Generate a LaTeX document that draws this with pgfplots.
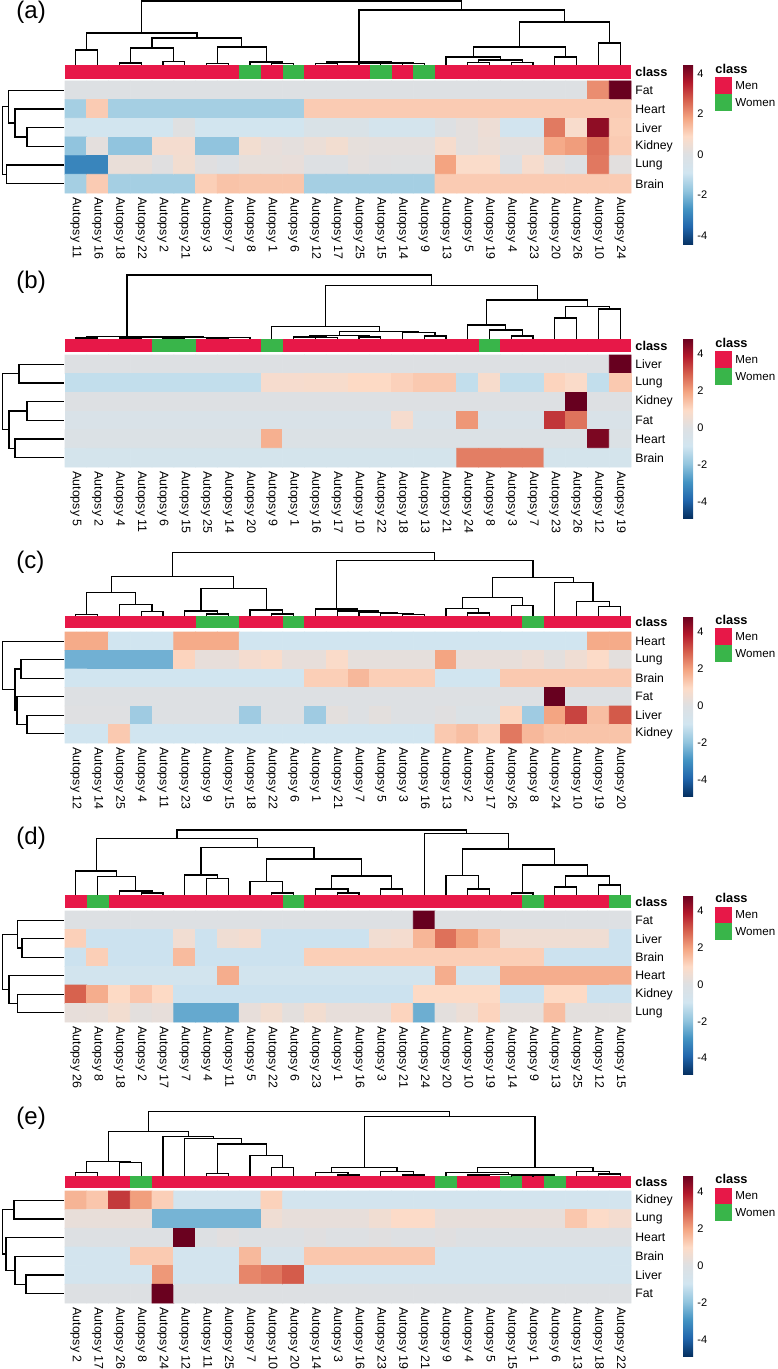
\documentclass[border=0pt]{standalone}
\usepackage{pgfplots}
\pgfplotsset{compat=1.18}
\usepackage{fontspec}
\setmainfont{Liberation Sans}

\definecolor{menred}{RGB}{231,24,72}
\definecolor{womengreen}{RGB}{57,181,74}
\pgfplotsset{colormap={rdbu}{rgb255=(5,48,97) rgb255=(33,102,172) rgb255=(67,147,195) rgb255=(146,197,222) rgb255=(209,229,240) rgb255=(221,224,227) rgb255=(253,219,199) rgb255=(244,165,130) rgb255=(214,96,77) rgb255=(178,24,43) rgb255=(103,0,31)}}

% one panel = one hidden axis over the whole page; x = column index, y = pixel row (downwards)
\pgfplotsset{
  panel/.style n args={3}{%
    at={(32.5pt,0pt)}, anchor=north west,
    x=10.885pt, y=0.5pt, y dir=reverse,
    xmin=-0.5, xmax=25.5, ymin=0, ymax=1369,
    hide axis, clip=false,
    colormap name=rdbu,
    point meta min=-#1, point meta max=#1,
    colorbar,
    colorbar style={
      at={(parent axis.north west)}, anchor=north west,
      xshift=300.5pt, yshift=#2,
      width=5pt, height=#3,
      ytick={-4,-2,0,2,4}, yticklabels={-4,-2,0,2,4},
      yticklabel style={font=\fontsize{5.5}{6}\selectfont, inner sep=1pt, xshift=1pt},
      major tick length=0pt, axis line style={draw=none},
    },
  },
  dend/.style={black, line width=0.6pt, unbounded coords=jump},
}
\tikzset{
  collab/.style={rotate=-90, anchor=west, inner sep=0pt, font=\fontsize{6.2}{7}\selectfont},
  rowlab/.style={anchor=west, inner sep=0pt, xshift=2pt, font=\fontsize{6.1}{7}\selectfont},
  legtxt/.style={anchor=west, inner sep=0pt, font=\fontsize{5.8}{6}\selectfont},
  legtitle/.style={anchor=west, inner sep=0pt, font=\fontsize{6.4}{7}\selectfont\bfseries},
  plabel/.style={anchor=west, inner sep=0pt, font=\fontsize{12}{13}\selectfont},
}
\newcommand\collabels[2]{%
  \foreach \n [count=\i from 0] in {#2} {%
    \edef\tmp{\noexpand\node[collab] at (axis cs:\i,#1) {Autopsy \n};}\tmp}}
\newcommand\rowlabels[3]{%
  \foreach \n [count=\i from 0] in {#3} {%
    \pgfmathsetmacro\yy{#1+#2*(\i+0.5)}%
    \edef\tmp{\noexpand\node[rowlab] at (axis cs:25.5,\yy) {\n};}\tmp}}
\newcommand\classlegend[1]{%
  \pgfmathsetmacro\ya{#1+8.3}\pgfmathsetmacro\yb{#1+25}\pgfmathsetmacro\yc{#1+41.7}%
  \pgfmathsetmacro\ym{#1+16.7}\pgfmathsetmacro\yw{#1+33.4}%
  \node[legtitle] at (axis cs:29.36,#1) {class};
  \fill[menred] (axis cs:29.36,\ya) rectangle (axis cs:30.14,\yb);
  \fill[womengreen] (axis cs:29.36,\yb) rectangle (axis cs:30.14,\yc);
  \node[legtxt] at (axis cs:30.28,\ym) {Men};
  \node[legtxt] at (axis cs:30.28,\yw) {Women};}

\begin{document}
\begin{tikzpicture}

% ---------------- (a) ----------------
\begin{axis}[panel={4.47}{-32pt}{90.5pt}]
\addplot[matrix plot*, mesh/cols=26, point meta=explicit]
  table[row sep=\\, x expr={mod(\coordindex,26)}, y expr={81+18.667*(floor(\coordindex/26)+0.5)}, meta=v] {
v\\
0\\ 0\\ 0\\ 0\\ 0\\ 0\\ 0\\ 0\\ 0\\ 0\\ 0\\ 0\\ 0\\ 0\\ 0\\ 0\\ 0\\ 0\\ 0\\ 0\\ 0\\ 0\\ 0\\ 0\\ 2.1\\ 4.45\\
-1.52\\ 1.16\\ -1.52\\ -1.52\\ -1.52\\ -1.52\\ -1.52\\ -1.52\\ -1.52\\ -1.52\\ -1.52\\ 1.16\\ 1.16\\ 1.16\\ 1.16\\ 1.16\\ 1.16\\ 1.16\\ 1.16\\ 1.16\\ 1.16\\ 1.16\\ 1.16\\ 1.16\\ 1.16\\ 1.16\\
-0.85\\ -0.85\\ -0.85\\ -0.85\\ -0.85\\ 0.05\\ -0.85\\ -0.85\\ -0.85\\ -0.85\\ -0.85\\ -0.3\\ -0.3\\ -0.3\\ -0.7\\ -0.7\\ -0.7\\ 0\\ 0.2\\ 0.45\\ -0.8\\ -0.8\\ 2.35\\ 0.75\\ 4.0\\ 1.1\\
-1.8\\ 0.2\\ -1.8\\ -1.8\\ 0.65\\ 0.65\\ -1.8\\ -1.8\\ 0.6\\ 0.3\\ 0.2\\ 0.4\\ 0.6\\ 0.25\\ 0.2\\ 0.2\\ 0.2\\ 0.7\\ 0.2\\ 0.4\\ 0.2\\ 0.2\\ 1.7\\ 1.9\\ 2.45\\ 1.16\\
-2.95\\ -2.95\\ 0.35\\ 0.35\\ 0.1\\ 0.6\\ 0.1\\ -0.05\\ 0.25\\ 0.25\\ 0.3\\ 0\\ 0\\ 0.2\\ 0.1\\ 0.05\\ 0.05\\ 1.8\\ 0.8\\ 0.8\\ 0\\ 0.7\\ 0.2\\ 0\\ 2.37\\ 0.15\\
-1.52\\ 1.16\\ -1.52\\ -1.52\\ -1.52\\ -1.52\\ 1.1\\ 1.3\\ 1.25\\ 1.25\\ 1.25\\ -1.52\\ -1.52\\ -1.52\\ -1.52\\ -1.52\\ -1.52\\ 1.16\\ 1.16\\ 1.16\\ 1.16\\ 1.16\\ 1.16\\ 1.16\\ 1.16\\ 1.16\\
};
\addplot[fill=menred, draw=none] coordinates {(-0.5,65) (25.5,65) (25.5,79) (-0.5,79)};
\addplot[fill=womengreen, draw=none] coordinates {(7.5,65) (8.5,65) (8.5,79) (7.5,79)};
\addplot[fill=womengreen, draw=none] coordinates {(9.5,65) (10.5,65) (10.5,79) (9.5,79)};
\addplot[fill=womengreen, draw=none] coordinates {(13.5,65) (14.5,65) (14.5,79) (13.5,79)};
\addplot[fill=womengreen, draw=none] coordinates {(15.5,65) (16.5,65) (16.5,79) (15.5,79)};
\addplot[dend] coordinates {
(0,65) (0,50) (1,50) (1,65) (0,nan)
(2,65) (2,63) (3,63) (3,65) (0,nan)
(4,65) (4,61.5) (5,61.5) (5,65) (0,nan)
(2.5,63) (2.5,48) (4.5,48) (4.5,61.5) (0,nan)
(6,65) (6,63.5) (7,63.5) (7,65) (0,nan)
(9,65) (9,63.5) (10,63.5) (10,65) (0,nan)
(8,65) (8,62) (9.5,62) (9.5,63.5) (0,nan)
(6.5,63.5) (6.5,47) (8.75,47) (8.75,62) (0,nan)
(3.5,48) (3.5,38) (7.625,38) (7.625,47) (0,nan)
(0.5,50) (0.5,33) (5.5625,33) (5.5625,38) (0,nan)
(11,65) (11,63.5) (12,63.5) (12,65) (0,nan)
(13,65) (13,63.5) (14,63.5) (14,65) (0,nan)
(15,65) (15,63.5) (16,63.5) (16,65) (0,nan)
(13.5,63.5) (13.5,63) (15.5,63) (15.5,63.5) (0,nan)
(11.5,63.5) (11.5,62) (14.5,62) (14.5,63) (0,nan)
(18,65) (18,62.5) (19,62.5) (19,65) (0,nan)
(20,65) (20,62.5) (21,62.5) (21,65) (0,nan)
(18.5,62.5) (18.5,60) (20.5,60) (20.5,62.5) (0,nan)
(17,65) (17,57) (19.5,57) (19.5,60) (0,nan)
(22,65) (22,57) (23,57) (23,65) (0,nan)
(18.25,57) (18.25,47) (22.5,47) (22.5,57) (0,nan)
(24,65) (24,43) (25,43) (25,65) (0,nan)
(20.375,47) (20.375,22) (24.5,22) (24.5,43) (0,nan)
(13,62) (13,10) (22.4375,10) (22.4375,22) (0,nan)
(3.03,33) (3.03,1) (17.72,1) (17.72,10)
};
\addplot[dend] coordinates {
(-0.546,127.67) (-2.245,127.67) (-2.245,146.33) (-0.546,146.33) (0,nan)
(-0.546,109) (-2.797,109) (-2.797,137) (-2.245,137) (0,nan)
(-0.546,90.33) (-3.105,90.33) (-3.105,123) (-2.797,123) (0,nan)
(-0.546,165) (-3.178,165) (-3.178,183.67) (-0.546,183.67) (0,nan)
(-3.105,106.67) (-3.362,106.67) (-3.362,174.33) (-3.178,174.33)
};
\node[plabel] at (axis cs:-2.75,12.5) {(a)};
\node[legtitle, xshift=2pt] at (axis cs:25.5,72) {class};
\rowlabels{81}{18.667}{Fat,Heart,Liver,Kidney,Lung,Brain}
\collabels{197}{11,16,18,22,2,21,3,7,8,1,6,12,17,25,15,14,9,13,5,19,4,23,20,26,10,24}
\classlegend{69}
\end{axis}

% ---------------- (b) ----------------
\begin{axis}[panel={4.87}{-169pt}{90pt}]
\addplot[matrix plot*, mesh/cols=26, point meta=explicit]
  table[row sep=\\, x expr={mod(\coordindex,26)}, y expr={355+18.667*(floor(\coordindex/26)+0.5)}, meta=v] {
v\\
0\\ 0\\ 0\\ 0\\ 0\\ 0\\ 0\\ 0\\ 0\\ 0\\ 0\\ 0\\ 0\\ 0\\ 0\\ 0\\ 0\\ 0\\ 0\\ 0\\ 0\\ 0\\ 0\\ 0\\ 0\\ 4.87\\
-1.2\\ -1.2\\ -1.2\\ -1.2\\ -1.2\\ -1.2\\ -1.2\\ -1.2\\ -1.2\\ 0.75\\ 0.75\\ 0.8\\ 0.8\\ 1.0\\ 1.0\\ 1.15\\ 1.3\\ 1.3\\ -1.2\\ 0.8\\ -1.2\\ -1.2\\ 1.1\\ 0.9\\ -1.2\\ 1.3\\
0\\ 0\\ 0\\ 0\\ 0\\ 0\\ 0\\ 0\\ 0\\ 0\\ 0\\ 0\\ 0\\ 0\\ 0\\ 0\\ 0\\ 0\\ 0\\ 0\\ 0\\ 0\\ 0\\ 4.87\\ 0\\ 0\\
-0.35\\ -0.35\\ -0.35\\ -0.35\\ -0.35\\ -0.35\\ -0.35\\ -0.35\\ -0.35\\ -0.35\\ -0.35\\ -0.35\\ -0.35\\ -0.35\\ -0.35\\ 0.75\\ -0.35\\ -0.35\\ 2.15\\ -0.35\\ -0.35\\ -0.35\\ 3.5\\ 2.65\\ -0.35\\ -0.35\\
-0.15\\ -0.15\\ -0.15\\ -0.15\\ -0.15\\ -0.15\\ -0.15\\ -0.15\\ -0.15\\ 1.75\\ -0.15\\ -0.15\\ -0.15\\ -0.15\\ -0.15\\ -0.15\\ -0.15\\ -0.15\\ -0.15\\ -0.15\\ -0.15\\ -0.15\\ -0.15\\ -0.15\\ 4.6\\ -0.15\\
-0.7\\ -0.7\\ -0.7\\ -0.7\\ -0.7\\ -0.7\\ -0.7\\ -0.7\\ -0.7\\ -0.7\\ -0.7\\ -0.7\\ -0.7\\ -0.7\\ -0.7\\ -0.7\\ -0.7\\ -0.7\\ 2.5\\ 2.5\\ 2.5\\ 2.5\\ -0.7\\ -0.7\\ -0.7\\ -0.7\\
};
\addplot[fill=menred, draw=none] coordinates {(-0.5,339) (25.5,339) (25.5,352) (-0.5,352)};
\addplot[fill=womengreen, draw=none] coordinates {(3.5,339) (5.5,339) (5.5,352) (3.5,352)};
\addplot[fill=womengreen, draw=none] coordinates {(8.5,339) (9.5,339) (9.5,352) (8.5,352)};
\addplot[fill=womengreen, draw=none] coordinates {(18.5,339) (19.5,339) (19.5,352) (18.5,352)};
\addplot[dend] coordinates {
(0,339) (0,338) (1,338) (1,339) (0,nan)
(2,339) (2,338) (3,338) (3,339) (0,nan)
(4,339) (4,338) (5,338) (5,339) (0,nan)
(6,339) (6,338) (7,338) (7,339) (0,nan)
(6.5,338) (6.5,337.5) (8,337.5) (8,339) (0,nan)
(4.5,338) (4.5,337.5) (7.25,337.5) (0,nan)
(2.5,338) (2.5,337) (5.875,337) (5.875,337.5) (0,nan)
(0.5,338) (0.5,336.5) (4.1875,336.5) (4.1875,337) (0,nan)
(11,339) (11,337.5) (12,337.5) (12,339) (0,nan)
(10,339) (10,337) (11.5,337) (11.5,337.5) (0,nan)
(13,339) (13,337) (14,337) (14,339) (0,nan)
(10.75,337) (10.75,335.5) (13.5,335.5) (13.5,337) (0,nan)
(16,339) (16,336) (17,336) (17,339) (0,nan)
(15,339) (15,332.5) (16.5,332.5) (16.5,336) (0,nan)
(12.125,335.5) (12.125,331.5) (15.75,331.5) (15.75,332.5) (0,nan)
(9,339) (9,326.7) (13.9375,326.7) (13.9375,331.5) (0,nan)
(20,339) (20,336) (21,336) (21,339) (0,nan)
(19,339) (19,330) (20.5,330) (20.5,336) (0,nan)
(18,339) (18,325) (19.75,325) (19.75,330) (0,nan)
(22,339) (22,318) (23,318) (23,339) (0,nan)
(24,339) (24,309) (25,309) (25,339) (0,nan)
(22.5,318) (22.5,306.7) (24.5,306.7) (24.5,309) (0,nan)
(18.875,325) (18.875,300) (23.5,300) (23.5,306.7) (0,nan)
(11.469,326.7) (11.469,285.7) (21.1875,285.7) (21.1875,300) (0,nan)
(2.344,336.5) (2.344,275) (16.328,275) (16.328,285.7)
};
\addplot[dend] coordinates {
(-0.546,364.33) (-2.613,364.33) (-2.613,383) (-0.546,383) (0,nan)
(-0.546,401.67) (-2.245,401.67) (-2.245,420.33) (-0.546,420.33) (0,nan)
(-0.546,439) (-2.797,439) (-2.797,457.67) (-0.546,457.67) (0,nan)
(-2.245,411) (-3.072,411) (-3.072,448.33) (-2.797,448.33) (0,nan)
(-2.613,373.67) (-3.371,373.67) (-3.371,429.67) (-3.072,429.67)
};
\node[plabel] at (axis cs:-2.75,282) {(b)};
\node[legtitle, xshift=2pt] at (axis cs:25.5,345.5) {class};
\rowlabels{355}{18.667}{Liver,Lung,Kidney,Fat,Heart,Brain}
\collabels{471}{5,2,4,11,6,15,25,14,20,9,1,16,17,10,22,18,13,21,24,8,3,7,23,26,12,19}
\classlegend{343}
\end{axis}

% ---------------- (c) ----------------
\begin{axis}[panel={4.87}{-308pt}{90pt}]
\addplot[matrix plot*, mesh/cols=26, point meta=explicit]
  table[row sep=\\, x expr={mod(\coordindex,26)}, y expr={632+18.5*(floor(\coordindex/26)+0.5)}, meta=v] {
v\\
1.85\\ 1.85\\ -0.97\\ -0.97\\ -0.97\\ 1.85\\ 1.85\\ 1.85\\ -0.97\\ -0.97\\ -0.97\\ -0.97\\ -0.97\\ -0.97\\ -0.97\\ -0.97\\ -0.97\\ -0.97\\ -0.97\\ -0.97\\ -0.97\\ -0.97\\ -0.97\\ -0.97\\ 1.85\\ 1.85\\
-2.35\\ -2.35\\ -2.35\\ -2.35\\ -2.35\\ 1.1\\ 0.3\\ 0.3\\ 0.7\\ 0.85\\ 0.3\\ 0.3\\ 0.9\\ 0.25\\ 0.25\\ 0.25\\ 0.25\\ 1.95\\ 0.3\\ 0.3\\ 0.3\\ 0.5\\ 0.2\\ 0.55\\ 0.95\\ 0.2\\
-0.97\\ -0.97\\ -0.97\\ -0.97\\ -0.97\\ -0.97\\ -0.97\\ -0.97\\ -0.97\\ -0.97\\ -0.97\\ 1.2\\ 1.2\\ 1.6\\ 1.2\\ 1.2\\ 1.2\\ -0.97\\ -0.97\\ -0.97\\ 1.3\\ 1.3\\ 1.3\\ 1.3\\ 1.3\\ 1.3\\
0\\ 0\\ 0\\ 0\\ 0\\ 0\\ 0\\ 0\\ 0\\ 0\\ 0\\ 0\\ 0\\ 0\\ 0\\ 0\\ 0\\ 0\\ 0\\ 0\\ 0\\ 0\\ 4.87\\ 0\\ 0\\ 0\\
0.05\\ 0.05\\ 0.05\\ -1.75\\ 0\\ 0\\ 0\\ 0\\ -1.75\\ 0\\ 0\\ -1.75\\ 0.2\\ 0\\ 0.2\\ 0\\ 0\\ 0.1\\ -0.15\\ -0.15\\ 1.07\\ -1.75\\ 1.95\\ 3.3\\ 1.5\\ 3.0\\
-0.97\\ -0.97\\ 1.3\\ -0.97\\ -0.97\\ -0.97\\ -0.97\\ -0.97\\ -0.97\\ -0.97\\ -0.97\\ -0.97\\ -0.97\\ -0.97\\ -0.97\\ -0.97\\ -0.97\\ 1.3\\ 1.5\\ 1.15\\ 2.58\\ 1.6\\ 1.4\\ 1.4\\ 1.4\\ 1.4\\
};
\addplot[fill=menred, draw=none] coordinates {(-0.5,616) (25.5,616) (25.5,628) (-0.5,628)};
\addplot[fill=womengreen, draw=none] coordinates {(5.5,616) (7.5,616) (7.5,628) (5.5,628)};
\addplot[fill=womengreen, draw=none] coordinates {(9.5,616) (10.5,616) (10.5,628) (9.5,628)};
\addplot[fill=womengreen, draw=none] coordinates {(20.5,616) (21.5,616) (21.5,628) (20.5,628)};
\addplot[dend] coordinates {
(0,616) (0,614.7) (1,614.7) (1,616) (0,nan)
(3,616) (3,611.7) (4,611.7) (4,616) (0,nan)
(2,616) (2,604.3) (3.5,604.3) (3.5,611.7) (0,nan)
(0.5,614.7) (0.5,592.7) (2.75,592.7) (2.75,604.3) (0,nan)
(6,616) (6,614) (7,614) (7,616) (0,nan)
(5,616) (5,611) (6.5,611) (6.5,614) (0,nan)
(9,616) (9,614) (10,614) (10,616) (0,nan)
(8,616) (8,610) (9.5,610) (9.5,614) (0,nan)
(5.75,611) (5.75,588.3) (8.75,588.3) (8.75,610) (0,nan)
(1.625,592.7) (1.625,576.7) (7.25,576.7) (7.25,588.3) (0,nan)
(15,616) (15,614.5) (16,614.5) (16,616) (0,nan)
(14,616) (14,613.5) (15.5,613.5) (15.5,614.5) (0,nan)
(13,616) (13,612.5) (14.75,612.5) (14.75,613.5) (0,nan)
(12,616) (12,611) (13.875,611) (13.875,612.5) (0,nan)
(11,616) (11,609) (12.9375,609) (12.9375,611) (0,nan)
(18,616) (18,613) (19,613) (19,616) (0,nan)
(17,616) (17,608.3) (18.5,608.3) (18.5,613) (0,nan)
(20,616) (20,605.7) (21,605.7) (21,616) (0,nan)
(17.75,608.3) (17.75,597.3) (20.5,597.3) (20.5,605.7) (0,nan)
(24,616) (24,606.7) (25,606.7) (25,616) (0,nan)
(23,616) (23,601.7) (24.5,601.7) (24.5,606.7) (0,nan)
(22,616) (22,582.3) (23.75,582.3) (23.75,601.7) (0,nan)
(19.125,597.3) (19.125,577.7) (22.875,577.7) (22.875,582.3) (0,nan)
(11.969,609) (11.969,560.7) (21,560.7) (21,577.7) (0,nan)
(4.4375,576.7) (4.4375,552.7) (16.484,552.7) (16.484,560.7)
};
\addplot[dend] coordinates {
(-0.546,659.75) (-2.521,659.75) (-2.521,678.25) (-0.546,678.25) (0,nan)
(-0.546,715.25) (-2.245,715.25) (-2.245,733.75) (-0.546,733.75) (0,nan)
(-0.546,696.75) (-2.705,696.75) (-2.705,724.5) (-2.245,724.5) (0,nan)
(-2.521,669) (-2.797,669) (-2.797,710.625) (-2.705,710.625) (0,nan)
(-0.546,641.25) (-3.371,641.25) (-3.371,689.81) (-2.797,689.81)
};
\node[plabel] at (axis cs:-2.75,562) {(c)};
\node[legtitle, xshift=2pt] at (axis cs:25.5,622) {class};
\rowlabels{632}{18.5}{Heart,Lung,Brain,Fat,Liver,Kidney}
\collabels{747}{12,14,25,4,11,23,9,15,18,22,6,1,21,7,5,3,16,13,2,17,26,8,24,10,19,20}
\classlegend{620}
\end{axis}

% ---------------- (d) ----------------
\begin{axis}[panel={4.87}{-447.5pt}{89.5pt}]
\addplot[matrix plot*, mesh/cols=26, point meta=explicit]
  table[row sep=\\, x expr={mod(\coordindex,26)}, y expr={911+18.5*(floor(\coordindex/26)+0.5)}, meta=v] {
v\\
0\\ 0\\ 0\\ 0\\ 0\\ 0\\ 0\\ 0\\ 0\\ 0\\ 0\\ 0\\ 0\\ 0\\ 0\\ 0\\ 4.87\\ 0\\ 0\\ 0\\ 0\\ 0\\ 0\\ 0\\ 0\\ 0\\
1.17\\ -1.05\\ -1.05\\ -1.05\\ -1.05\\ 0.6\\ -1.05\\ 0.55\\ 0.7\\ -1.05\\ -1.05\\ -1.05\\ -1.05\\ -1.05\\ 0.6\\ 0.7\\ 1.65\\ 2.68\\ 2.0\\ 1.45\\ 0.55\\ 0.55\\ 0.55\\ 0.55\\ 0.55\\ -1.05\\
-1.05\\ 1.2\\ -1.05\\ -1.05\\ -1.05\\ 1.55\\ -1.05\\ -1.05\\ -1.05\\ -1.05\\ -1.05\\ 1.2\\ 1.2\\ 1.2\\ 1.2\\ 1.2\\ 1.2\\ 1.2\\ 1.2\\ 1.2\\ 1.2\\ 1.2\\ -1.05\\ -1.05\\ -1.05\\ -1.05\\
-0.85\\ -0.85\\ -0.85\\ -0.85\\ -0.85\\ -0.85\\ -0.85\\ 1.8\\ -0.85\\ -0.85\\ -0.85\\ -0.85\\ -0.85\\ -0.85\\ -0.85\\ -0.85\\ -0.85\\ 1.8\\ -0.85\\ -0.85\\ 1.8\\ 1.8\\ 1.8\\ 1.8\\ 1.8\\ 1.8\\
2.9\\ 1.8\\ 1.0\\ 1.35\\ 1.0\\ -1.05\\ -1.05\\ -1.05\\ -1.05\\ -1.05\\ -1.05\\ -1.05\\ -1.05\\ -1.05\\ -1.05\\ -1.05\\ 1.0\\ 1.0\\ 1.0\\ 1.0\\ -1.05\\ -1.05\\ 1.0\\ 1.0\\ -1.05\\ -1.05\\
0.3\\ 0.35\\ 0.65\\ 0.2\\ 0.3\\ -2.5\\ -2.5\\ -2.5\\ 0.3\\ 0.65\\ 0.2\\ 0.65\\ 0.3\\ 0.3\\ 0.3\\ 1.1\\ -2.4\\ 0.2\\ 0.45\\ 1.1\\ 0.25\\ 0.25\\ 1.5\\ 0.2\\ 0.2\\ 0.2\\
};
\addplot[fill=menred, draw=none] coordinates {(-0.5,895) (25.5,895) (25.5,908) (-0.5,908)};
\addplot[fill=womengreen, draw=none] coordinates {(0.5,895) (1.5,895) (1.5,908) (0.5,908)};
\addplot[fill=womengreen, draw=none] coordinates {(9.5,895) (10.5,895) (10.5,908) (9.5,908)};
\addplot[fill=womengreen, draw=none] coordinates {(20.5,895) (21.5,895) (21.5,908) (20.5,908)};
\addplot[fill=womengreen, draw=none] coordinates {(24.5,895) (25.5,895) (25.5,908) (24.5,908)};
\addplot[dend] coordinates {
(3,895) (3,893) (4,893) (4,895) (0,nan)
(2,895) (2,891) (3.5,891) (3.5,893) (0,nan)
(1,895) (1,876.7) (2.75,876.7) (2.75,891) (0,nan)
(0,895) (0,871) (1.875,871) (1.875,876.7) (0,nan)
(6,895) (6,878.3) (7,878.3) (7,895) (0,nan)
(5,895) (5,875) (6.5,875) (6.5,878.3) (0,nan)
(9,895) (9,893) (10,893) (10,895) (0,nan)
(8,895) (8,881.7) (9.5,881.7) (9.5,893) (0,nan)
(12,895) (12,893) (13,893) (13,895) (0,nan)
(11,895) (11,889) (12.5,889) (12.5,893) (0,nan)
(14,895) (14,889) (15,889) (15,895) (0,nan)
(11.75,889) (11.75,876) (14.5,876) (14.5,889) (0,nan)
(8.75,881.7) (8.75,859) (13.125,859) (13.125,876) (0,nan)
(5.75,875) (5.75,847.3) (10.9375,847.3) (10.9375,859) (0,nan)
(0.9375,871) (0.9375,838.3) (8.34375,838.3) (8.34375,847.3) (0,nan)
(18,895) (18,889) (19,889) (19,895) (0,nan)
(17,895) (17,875.7) (18.5,875.7) (18.5,889) (0,nan)
(20,895) (20,893) (21,893) (21,895) (0,nan)
(22,895) (22,887) (23,887) (23,895) (0,nan)
(24,895) (24,885) (25,885) (25,895) (0,nan)
(22.5,887) (22.5,876) (24.5,876) (24.5,885) (0,nan)
(20.5,893) (20.5,865) (23.5,865) (23.5,876) (0,nan)
(17.75,875.7) (17.75,849) (22,849) (22,865) (0,nan)
(16,895) (16,833.3) (19.875,833.3) (19.875,849) (0,nan)
(4.64,838.3) (4.64,830) (17.9375,830) (17.9375,833.3)
};
\addplot[dend] coordinates {
(-0.546,938.75) (-2.475,938.75) (-2.475,957.25) (-0.546,957.25) (0,nan)
(-0.546,920.25) (-2.682,920.25) (-2.682,948) (-2.475,948) (0,nan)
(-0.546,994.25) (-2.682,994.25) (-2.682,1012.75) (-0.546,1012.75) (0,nan)
(-0.546,975.75) (-3.072,975.75) (-3.072,1003.5) (-2.682,1003.5) (0,nan)
(-2.682,934.125) (-3.371,934.125) (-3.371,989.625) (-3.072,989.625)
};
\node[plabel] at (axis cs:-2.75,838) {(d)};
\node[legtitle, xshift=2pt] at (axis cs:25.5,901.5) {class};
\rowlabels{911}{18.5}{Fat,Liver,Brain,Heart,Kidney,Lung}
\collabels{1026}{26,8,18,2,17,7,4,11,5,22,6,23,1,16,3,21,24,20,10,19,14,9,13,25,12,15}
\classlegend{898.3}
\end{axis}

% ---------------- (e) ----------------
\begin{axis}[panel={4.9}{-587.5pt}{90.5pt}]
\addplot[matrix plot*, mesh/cols=26, point meta=explicit]
  table[row sep=\\, x expr={mod(\coordindex,26)}, y expr={1191+18.667*(floor(\coordindex/26)+0.5)}, meta=v] {
v\\
1.7\\ 1.36\\ 3.46\\ 2.05\\ 1.2\\ -0.85\\ -0.85\\ -0.85\\ -0.85\\ 1.15\\ -0.85\\ -0.85\\ -0.85\\ -0.85\\ -0.85\\ -0.85\\ -0.85\\ -0.85\\ -0.85\\ -0.85\\ -0.85\\ -0.85\\ -0.85\\ -0.85\\ -0.85\\ -0.85\\
0.35\\ 0.35\\ 0.35\\ 0.35\\ -2.3\\ -2.3\\ -2.3\\ -2.3\\ -2.3\\ 0.55\\ 0.3\\ 0.3\\ 0.3\\ 0.3\\ 0.6\\ 0.95\\ 0.95\\ 0.3\\ 0.3\\ 0.3\\ 0.3\\ 0.3\\ 0.3\\ 1.35\\ 0.95\\ 0.7\\
0\\ 0\\ 0\\ 0\\ 0\\ 4.87\\ 0\\ 0.15\\ 0\\ 0\\ 0\\ 0.1\\ 0\\ 0\\ 0.1\\ 0\\ 0\\ 0.1\\ 0\\ 0\\ 0\\ 0\\ 0\\ 0\\ 0\\ 0\\
-0.85\\ -0.85\\ -0.85\\ 1.3\\ 1.3\\ -0.85\\ -0.85\\ -0.85\\ 1.6\\ -0.6\\ -0.6\\ 1.35\\ 1.35\\ 1.35\\ 1.35\\ 1.35\\ 1.35\\ -0.85\\ -0.85\\ -0.85\\ -0.85\\ -0.85\\ -0.85\\ -0.85\\ -0.85\\ -0.85\\
-0.8\\ -0.8\\ -0.8\\ -0.8\\ 2.15\\ -0.8\\ -0.8\\ -0.8\\ 2.4\\ 2.6\\ 3.0\\ -0.8\\ -0.8\\ -0.8\\ -0.8\\ -0.8\\ -0.8\\ -0.8\\ -0.8\\ -0.8\\ -0.8\\ -0.8\\ -0.8\\ -0.8\\ -0.8\\ -0.8\\
0\\ 0\\ 0\\ 0\\ 4.87\\ 0\\ 0\\ 0\\ 0\\ 0\\ 0\\ 0\\ 0\\ 0\\ 0\\ 0\\ 0\\ 0\\ 0\\ 0\\ 0\\ 0\\ 0\\ 0\\ 0\\ 0\\
};
\addplot[fill=menred, draw=none] coordinates {(-0.5,1176) (25.5,1176) (25.5,1188) (-0.5,1188)};
\addplot[fill=womengreen, draw=none] coordinates {(2.5,1176) (3.5,1176) (3.5,1188) (2.5,1188)};
\addplot[fill=womengreen, draw=none] coordinates {(16.5,1176) (17.5,1176) (17.5,1188) (16.5,1188)};
\addplot[fill=womengreen, draw=none] coordinates {(19.5,1176) (20.5,1176) (20.5,1188) (19.5,1188)};
\addplot[fill=womengreen, draw=none] coordinates {(21.5,1176) (22.5,1176) (22.5,1188) (21.5,1188)};
\addplot[dend] coordinates {
(0,1176) (0,1172.7) (1,1172.7) (1,1176) (0,nan)
(2,1176) (2,1162.7) (3,1162.7) (3,1176) (0,nan)
(0.5,1172.7) (0.5,1161.7) (2.5,1161.7) (2.5,1162.7) (0,nan)
(6,1176) (6,1173.3) (7,1173.3) (7,1176) (0,nan)
(9,1176) (9,1167.3) (10,1167.3) (10,1176) (0,nan)
(8,1176) (8,1155.7) (9.5,1155.7) (9.5,1167.3) (0,nan)
(6.5,1173.3) (6.5,1144) (8.75,1144) (8.75,1155.7) (0,nan)
(5,1176) (5,1138.3) (7.625,1138.3) (7.625,1144) (0,nan)
(4,1176) (4,1136.7) (6.3125,1136.7) (6.3125,1138.3) (0,nan)
(1.5,1161.7) (1.5,1131.7) (5.15625,1131.7) (5.15625,1136.7) (0,nan)
(12,1176) (12,1175) (13,1175) (13,1176) (0,nan)
(11,1176) (11,1172.7) (12.5,1172.7) (12.5,1175) (0,nan)
(15,1176) (15,1175) (16,1175) (16,1176) (0,nan)
(14,1176) (14,1171.7) (15.5,1171.7) (15.5,1175) (0,nan)
(11.75,1172.7) (11.75,1167.3) (14.75,1167.3) (14.75,1171.7) (0,nan)
(18,1176) (18,1175) (19,1175) (19,1176) (0,nan)
(20,1176) (20,1175.5) (21,1175.5) (21,1176) (0,nan)
(20.5,1175.5) (20.5,1175) (22,1175) (22,1176) (0,nan)
(18.5,1175) (18.5,1174.5) (21.25,1174.5) (21.25,1175) (0,nan)
(17,1176) (17,1172.7) (19.875,1172.7) (19.875,1174.5) (0,nan)
(24,1176) (24,1174) (25,1174) (25,1176) (0,nan)
(23,1176) (23,1171.7) (24.5,1171.7) (24.5,1174) (0,nan)
(18.4375,1172.7) (18.4375,1167.3) (23.75,1167.3) (23.75,1171.7) (0,nan)
(13.25,1167.3) (13.25,1116.7) (21.09,1116.7) (21.09,1167.3) (0,nan)
(3.328,1131.7) (3.328,1111.7) (17.17,1111.7) (17.17,1116.7)
};
\addplot[dend] coordinates {
(-0.546,1200.33) (-2.843,1200.33) (-2.843,1219) (-0.546,1219) (0,nan)
(-0.546,1275) (-2.291,1275) (-2.291,1293.67) (-0.546,1293.67) (0,nan)
(-0.546,1256.33) (-2.797,1256.33) (-2.797,1284.33) (-2.291,1284.33) (0,nan)
(-0.546,1237.67) (-3.21,1237.67) (-3.21,1270.33) (-2.797,1270.33) (0,nan)
(-2.843,1209.67) (-3.371,1209.67) (-3.371,1254) (-3.21,1254)
};
\node[plabel] at (axis cs:-2.75,1118) {(e)};
\node[legtitle, xshift=2pt] at (axis cs:25.5,1182) {class};
\rowlabels{1191}{18.667}{Kidney,Lung,Heart,Brain,Liver,Fat}
\collabels{1307}{2,17,26,8,24,12,11,25,7,10,20,14,3,16,23,19,21,9,4,5,15,1,6,13,18,22}
\classlegend{1179.3}
\end{axis}

\pgfresetboundingbox
\path (0,0) rectangle (388.5pt,-684.5pt);
\end{tikzpicture}
\end{document}
